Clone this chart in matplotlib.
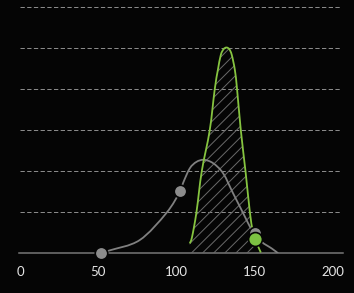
import matplotlib
matplotlib.use("Agg")
import matplotlib.pyplot as plt
from matplotlib.path import Path
from matplotlib.patches import PathPatch
import numpy as np

# gray curve (prior)
gray_x = [52.0, 57.3, 76.5, 93.6, 102.6, 104.3, 108.6, 112.9, 117.6,
          123.5, 130.0, 136.4, 142.8, 148.2, 150.3, 154.6, 161.0, 165.2]
gray_y = [0.0, 0.07, 0.32, 0.98, 1.52, 1.71, 2.07, 2.23, 2.28,
          2.20, 1.95, 1.46, 0.98, 0.57, 0.49, 0.28, 0.12, 0.0]

# green curve (posterior)
green_x = [108.6, 110.1, 112.9, 116.3, 121.4, 124.6, 126.6, 128.5, 130.3,
           132.1, 133.9, 135.5, 137.5, 138.9, 141.3, 144.3, 147.1, 148.8, 150.3,
           152.2, 154.1]
green_y = [0.24, 0.40, 1.0, 2.0, 3.0, 4.0, 4.47, 4.84, 4.98,
           5.02, 4.98, 4.84, 4.47, 4.0, 3.0, 2.0, 1.0, 0.57, 0.35,
           0.18, 0.02]

gray_pts_x = [52.0, 102.6, 150.3]
gray_pts_y = [0.0, 1.52, 0.49]
green_pt_x = [150.3]
green_pt_y = [0.35]

xticks = [0, 50, 100, 150, 200]
xlabels = ["0", "50", "100", "150", "200"]


def smooth_path(xs, ys):
    # catmull-rom through the points, drawn as cubic bezier segments
    p = np.column_stack([xs, ys])
    verts = [p[0]]
    codes = [Path.MOVETO]
    n = len(p)
    for i in range(n - 1):
        p0 = p[max(i - 1, 0)]
        p1 = p[i]
        p2 = p[i + 1]
        p3 = p[min(i + 2, n - 1)]
        verts += [p1 + (p2 - p0) / 6, p2 - (p3 - p1) / 6, p2]
        codes += [Path.CURVE4] * 3
    return verts, codes


bg = "#050505"
plt.rcParams['hatch.linewidth'] = 0.7

fig = plt.figure(figsize=(3.54, 2.93), dpi=100, facecolor=bg)
ax = fig.add_axes([20 / 354, 39.7 / 293, 321 / 354, 248 / 293])
ax.set_facecolor(bg)
ax.set_xlim(0, 205.4)
ax.set_ylim(0, 6.05)

for gy in range(1, 7):
    ax.axhline(gy, color="#8a8a8a", lw=0.72, linestyle=(0, (4.3, 2.4)), zorder=1)
ax.axhline(0, xmin=-0.004, xmax=1.006, color="#777777", lw=1.1, clip_on=False, zorder=2)

v, c = smooth_path(gray_x, gray_y)
ax.add_patch(PathPatch(Path(v, c), facecolor="none", edgecolor="#808080", lw=1.3, zorder=3))

# hatched area under green curve up to the green point
k = green_x.index(150.3) + 1
v, c = smooth_path(green_x[:k], green_y[:k])
v = v + [np.array([green_x[k - 1], 0.0]), np.array([green_x[0], 0.0]), v[0]]
c = c + [Path.LINETO, Path.LINETO, Path.CLOSEPOLY]
ax.add_patch(PathPatch(Path(v, c), facecolor="none", edgecolor="#6a6a6a",
                       hatch="///", lw=0, zorder=2.5))

v, c = smooth_path(green_x, green_y)
ax.add_patch(PathPatch(Path(v, c), facecolor="none", edgecolor="#86c440", lw=1.3, zorder=4))

ax.plot(gray_pts_x, gray_pts_y, "o", ms=9, color="#8c8c8c", mec=bg, mew=1.2,
        zorder=5, clip_on=False)
ax.plot(green_pt_x, green_pt_y, "o", ms=10, color="#7cc242", mec=bg, mew=1.2,
        zorder=6, clip_on=False)

for s in ax.spines.values():
    s.set_visible(False)
ax.set_yticks([])
ax.set_xticks(xticks)
ax.set_xticklabels(xlabels, color="#e6e6e6", fontsize=9.5, family="Lato")
ax.tick_params(axis="x", length=0, pad=9)

fig.savefig("out.png", dpi=100, facecolor=bg)
